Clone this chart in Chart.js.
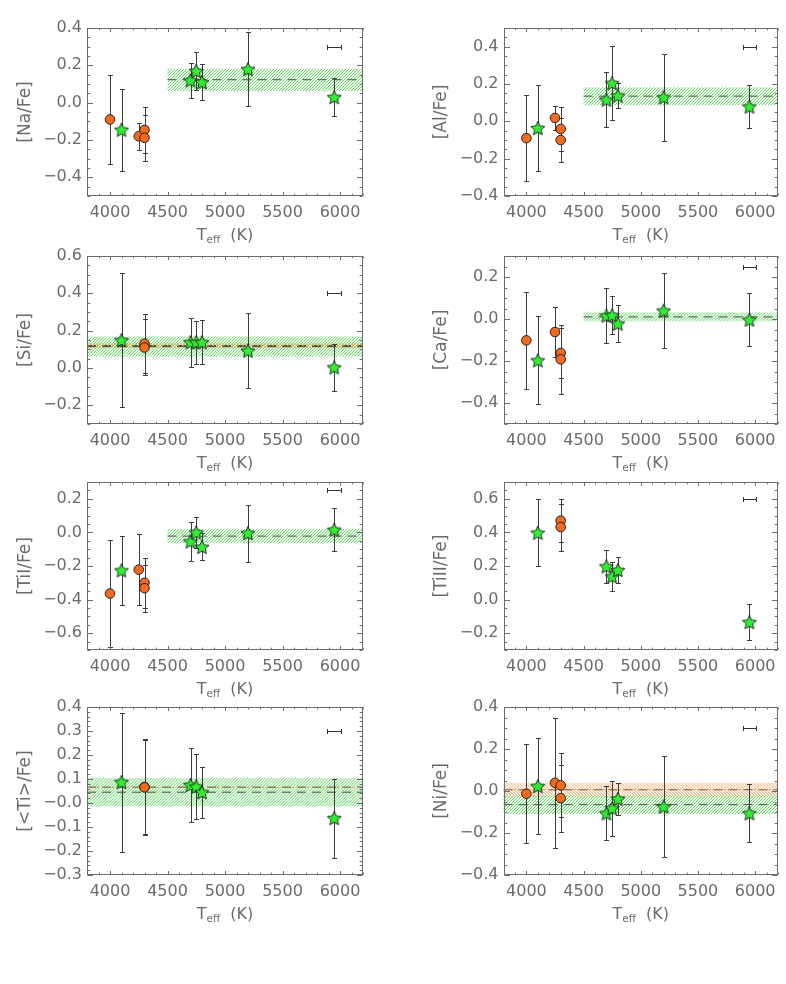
<!DOCTYPE html>
<html>
<head>
<meta charset="utf-8">
<script src="https://cdn.jsdelivr.net/npm/chart.js@4/dist/chart.umd.min.js"></script>
<style>
  body { margin: 0; background: #fff; width: 786px; height: 984px; position: relative; overflow: hidden; }
  canvas { position: absolute; }
</style>
</head>
<body>
<script>
// Teff of the two groups of stars (K)
const circleTeff = [4000, 4250, 4300, 4300];
const starTeff = [4100, 4700, 4750, 4800, 5200, 5950];

// abundances and errors, null = not measured
const naCircle = [-0.09, -0.18, -0.146, -0.188];
const naCircleErr = [0.24, 0.072, 0.123, 0.122];
const naStar = [-0.145, 0.12, 0.17, 0.11, 0.18, 0.03];
const naStarErr = [0.22, 0.095, 0.1, 0.095, 0.2, 0.1];

const alCircle = [-0.09, 0.018, -0.041, -0.1];
const alCircleErr = [0.23, 0.062, 0.12, 0.12];
const alStar = [-0.036, 0.116, 0.205, 0.138, 0.129, 0.079];
const alStarErr = [0.23, 0.147, 0.2, 0.067, 0.232, 0.115];

const siCircle = [null, null, 0.13, 0.11];
const siCircleErr = [null, null, 0.157, 0.15];
const siStar = [0.149, 0.138, 0.138, 0.138, 0.093, 0.004];
const siStarErr = [0.36, 0.13, 0.115, 0.117, 0.2, 0.127];

const caCircle = [-0.102, -0.062, -0.162, -0.192];
const caCircleErr = [0.232, 0.118, 0.12, 0.165];
const caStar = [-0.197, 0.016, 0.018, -0.022, 0.04, -0.003];
const caStarErr = [0.21, 0.13, 0.09, 0.087, 0.178, 0.127];

const ti1Circle = [-0.364, -0.222, -0.3, -0.332];
const ti1CircleErr = [0.32, 0.21, 0.15, 0.14];
const ti1Star = [-0.226, -0.054, 0.0, -0.086, -0.004, 0.016];
const ti1StarErr = [0.204, 0.114, 0.09, 0.08, 0.17, 0.128];

const ti2Circle = [null, null, 0.47, 0.432];
const ti2CircleErr = [null, null, 0.13, 0.14];
const ti2Star = [0.398, 0.198, 0.138, 0.176, null, -0.134];
const ti2StarErr = [0.2, 0.1, 0.088, 0.077, null, 0.106];

const tiCircle = [null, null, 0.067, 0.065];
const tiCircleErr = [null, null, 0.195, 0.2];
const tiStar = [0.087, 0.075, 0.068, 0.045, null, -0.063];
const tiStarErr = [0.29, 0.153, 0.136, 0.107, null, 0.165];

const niCircle = [-0.013, 0.039, 0.027, -0.034];
const niCircleErr = [0.236, 0.31, 0.153, 0.16];
const niStar = [0.023, -0.106, -0.082, -0.037, -0.074, -0.106];
const niStarErr = [0.228, 0.128, 0.132, 0.077, 0.242, 0.139];

// panels, left to right, top to bottom
const yTitles = ['[Na/Fe]', '[Al/Fe]', '[Si/Fe]', '[Ca/Fe]', '[TiI/Fe]', '[TiII/Fe]', '[<Ti>/Fe]', '[Ni/Fe]'];
const yMins = [-0.5, -0.4, -0.3, -0.5, -0.7, -0.3, -0.3, -0.4];
const yMaxs = [0.4, 0.5, 0.6, 0.3, 0.3, 0.7, 0.4, 0.4];
const yTickSets = [
  [-0.4, -0.2, 0, 0.2, 0.4],
  [-0.4, -0.2, 0, 0.2, 0.4],
  [-0.2, 0, 0.2, 0.4, 0.6],
  [-0.4, -0.2, 0, 0.2],
  [-0.6, -0.4, -0.2, 0, 0.2],
  [-0.2, 0, 0.2, 0.4, 0.6],
  [-0.3, -0.2, -0.1, 0, 0.1, 0.2, 0.3, 0.4],
  [-0.4, -0.2, 0, 0.2, 0.4]
];
const yMinorSteps = [0.05, 0.05, 0.05, 0.05, 0.05, 0.05, 0.02, 0.05];
const xTicks = [4000, 4500, 5000, 5500, 6000];

// mean +- sigma bands of each group
const greenMean = [0.123, 0.135, 0.115, 0.01, -0.022, null, 0.045, -0.065];
const greenSig = [0.06, 0.048, 0.055, 0.022, 0.042, null, 0.06, 0.045];
const greenFrom = [4500, 4500, 3800, 4500, 4500, null, 3800, 3800];
const orangeMean = [null, null, 0.12, null, null, null, 0.066, 0.006];
const orangeSig = [null, null, 0.015, null, null, null, 0, 0.034];

// typical Teff error, drawn top right
const teffErrY = [0.3, 0.4, 0.4, 0.25, 0.25, 0.6, 0.3, 0.3];
const teffErrX = 5950;
const teffErr = 60;

const circleVals = [naCircle, alCircle, siCircle, caCircle, ti1Circle, ti2Circle, tiCircle, niCircle];
const circleErrs = [naCircleErr, alCircleErr, siCircleErr, caCircleErr, ti1CircleErr, ti2CircleErr, tiCircleErr, niCircleErr];
const starVals = [naStar, alStar, siStar, caStar, ti1Star, ti2Star, tiStar, niStar];
const starErrs = [naStarErr, alStarErr, siStarErr, caStarErr, ti1StarErr, ti2StarErr, tiStarErr, niStarErr];

const FONT = "'DejaVu Sans', sans-serif";
const TXT = '#6b6b6b';
const ORANGE = '#f26a1c';
const GREEN = '#2ef02e';
const canvasTops = [0, 228, 454, 679];

function makeStar(r) {
  const c = document.createElement('canvas');
  const s = Math.ceil(r * 2 + 3);
  c.width = c.height = s;
  const g = c.getContext('2d');
  g.translate(s / 2, s / 2 + 0.7);
  g.beginPath();
  for (let k = 0; k < 10; k++) {
    const rr = k % 2 ? r * 0.47 : r;
    const a = -Math.PI / 2 + k * Math.PI / 5;
    g.lineTo(rr * Math.cos(a), rr * Math.sin(a));
  }
  g.closePath();
  g.fillStyle = GREEN;
  g.fill();
  g.strokeStyle = '#1a1a1a';
  g.lineWidth = 0.9;
  g.stroke();
  return c;
}
const starImg = makeStar(7.4);

function pts(xs, ys) { return xs.map((x, k) => ({x: x, y: ys[k]})).filter(p => p.y !== null); }
function errs(ys, es) { return es.filter((e, k) => ys[k] !== null); }

function fmt(v, i) {
  if (Math.abs(v) < 1e-9) return i === 6 ? '\u22120.0' : '0.0';
  return (v < 0 ? '\u2212' : '') + Math.abs(v).toFixed(1);
}

// diagonal hatching inside a value-space rectangle
function hatchRect(chart, x1v, x2v, y1v, y2v, color, dir) {
  const {ctx, chartArea: a, scales: {x, y}} = chart;
  const x1 = Math.max(x.getPixelForValue(x1v), a.left), x2 = Math.min(x.getPixelForValue(x2v), a.right);
  const top = y.getPixelForValue(y2v), bot = y.getPixelForValue(y1v);
  const h = bot - top;
  ctx.save();
  ctx.beginPath();
  ctx.rect(x1, top, x2 - x1, h);
  ctx.clip();
  ctx.strokeStyle = color;
  ctx.lineWidth = 1;
  ctx.beginPath();
  for (let s = Math.floor((x1 - h - 6) / 3) * 3; s < x2 + 6; s += 3) {
    if (dir > 0) { ctx.moveTo(s, bot); ctx.lineTo(s + h, top); }
    else { ctx.moveTo(s, top); ctx.lineTo(s + h, bot); }
  }
  ctx.stroke();
  ctx.restore();
}

const bands = {
  id: 'bands',
  beforeDatasetsDraw(chart, args, opts) {
    const i = opts.panel;
    if (orangeMean[i] !== null && orangeSig[i] > 0)
      hatchRect(chart, 3800, 6200, orangeMean[i] - orangeSig[i], orangeMean[i] + orangeSig[i], '#f6a462', -1);
    if (greenMean[i] !== null)
      hatchRect(chart, greenFrom[i], 6200, greenMean[i] - greenSig[i], greenMean[i] + greenSig[i], '#52d952', 1);
  }
};

const errorBars = {
  id: 'errorBars',
  beforeDatasetDraw(chart, args) {
    const ds = chart.data.datasets[args.index];
    if (!ds.errors) return;
    const {ctx, scales: {x, y}} = chart;
    ctx.save();
    ctx.strokeStyle = '#3c3c3c';
    ctx.lineWidth = 1;
    ds.data.forEach((p, k) => {
      const px = Math.round(x.getPixelForValue(p.x)) + 0.5;
      const top = Math.round(y.getPixelForValue(p.y + ds.errors[k])) + 0.5;
      const bot = Math.round(y.getPixelForValue(p.y - ds.errors[k])) + 0.5;
      ctx.beginPath();
      ctx.moveTo(px, top); ctx.lineTo(px, bot);
      ctx.moveTo(px - 2.5, top); ctx.lineTo(px + 2.5, top);
      ctx.moveTo(px - 2.5, bot); ctx.lineTo(px + 2.5, bot);
      ctx.stroke();
    });
    ctx.restore();
  }
};

const frame = {
  id: 'frame',
  afterDatasetsDraw(chart, args, opts) {
    const {ctx, chartArea: a, scales: {x, y}} = chart;
    const i = opts.panel;
    ctx.save();
    ctx.strokeStyle = TXT;
    ctx.lineWidth = 1;
    const L = Math.round(a.left) + 0.5, R = Math.round(a.right) - 0.5;
    const T = Math.round(a.top) + 0.5, B = Math.round(a.bottom) - 0.5;
    ctx.strokeRect(L, T, R - L, B - T);
    ctx.beginPath();
    for (let v = 3800; v <= 6200; v += 100) {
      const len = xTicks.includes(v) ? 3.5 : 1.8;
      const px = Math.round(x.getPixelForValue(v)) + 0.5;
      ctx.moveTo(px, B); ctx.lineTo(px, B - len);
      ctx.moveTo(px, T); ctx.lineTo(px, T + len);
    }
    const n = Math.round((yMaxs[i] - yMins[i]) / yMinorSteps[i]);
    for (let k = 0; k <= n; k++) {
      const v = yMins[i] + k * yMinorSteps[i];
      const len = yTickSets[i].some(t => Math.abs(t - v) < 1e-6) ? 5.5 : 2.8;
      const py = Math.round(y.getPixelForValue(v)) + 0.5;
      ctx.moveTo(L, py); ctx.lineTo(L + len, py);
      ctx.moveTo(R, py); ctx.lineTo(R - len, py);
    }
    ctx.stroke();

    // typical Teff uncertainty
    ctx.strokeStyle = '#333';
    const ey = Math.round(y.getPixelForValue(teffErrY[i])) + 0.5;
    const x1 = Math.round(x.getPixelForValue(teffErrX - teffErr)) + 0.5;
    const x2 = Math.round(x.getPixelForValue(teffErrX + teffErr)) + 0.5;
    ctx.beginPath();
    ctx.moveTo(x1, ey); ctx.lineTo(x2, ey);
    ctx.moveTo(x1, ey - 2.5); ctx.lineTo(x1, ey + 2.5);
    ctx.moveTo(x2, ey - 2.5); ctx.lineTo(x2, ey + 2.5);
    ctx.stroke();

    // x title with subscript
    ctx.fillStyle = TXT;
    ctx.textBaseline = 'alphabetic';
    const big = '16px ' + FONT, small = '10.5px ' + FONT;
    ctx.font = big;
    const wT = ctx.measureText('T').width, wK = ctx.measureText('  (K)').width;
    ctx.font = small;
    const wE = ctx.measureText('eff').width;
    let cx = (a.left + a.right) / 2 - (wT + wE + wK) / 2;
    const base = a.bottom + 43.5;
    ctx.font = big; ctx.fillText('T', cx, base); cx += wT;
    ctx.font = small; ctx.fillText('eff', cx, base + 3.5); cx += wE;
    ctx.font = big; ctx.fillText('  (K)', cx, base);
    ctx.restore();
  }
};

function meanLine(mean, from, color, dash, order) {
  return {type: 'line', data: [{x: from, y: mean}, {x: 6200, y: mean}], borderColor: color, borderWidth: 1, borderDash: dash, pointRadius: 0, fill: false, order: order};
}

for (let i = 0; i < 8; i++) {
  const col = i % 2, row = Math.floor(i / 2);
  const cv = document.createElement('canvas');
  cv.width = 393;
  cv.height = 250;
  cv.style.left = (col * 393) + 'px';
  cv.style.top = canvasTops[row] + 'px';
  document.body.appendChild(cv);

  const datasets = [];
  if (greenMean[i] !== null) datasets.push(meanLine(greenMean[i], greenFrom[i], '#4a4a4a', [9, 6], 5));
  if (orangeMean[i] !== null) {
    datasets.push(meanLine(orangeMean[i], 3800, '#4a4a4a', [9, 6], 5));
    datasets.push(meanLine(orangeMean[i], 3800, '#f08a30', [2, 3], 4));
  }
  datasets.push({
    type: 'scatter', data: pts(circleTeff, circleVals[i]), errors: errs(circleVals[i], circleErrs[i]),
    pointStyle: 'circle', pointRadius: 4.8, backgroundColor: ORANGE, borderColor: '#222', borderWidth: 1, order: 2
  });
  datasets.push({
    type: 'scatter', data: pts(starTeff, starVals[i]), errors: errs(starVals[i], starErrs[i]),
    pointStyle: starImg, pointRadius: 7, order: 1
  });

  new Chart(cv, {
    type: 'scatter',
    data: {datasets: datasets},
    options: {
      responsive: false,
      animation: false,
      devicePixelRatio: 1,
      events: [],
      layout: {padding: {left: col ? 38.5 : 15, right: col ? 7 : 30, top: 28, bottom: 0}},
      plugins: {legend: {display: false}, tooltip: {enabled: false}, frame: {panel: i}, bands: {panel: i}},
      scales: {
        x: {
          type: 'linear', min: 3800, max: 6200,
          afterBuildTicks: s => { s.ticks = xTicks.map(v => ({value: v})); },
          afterFit: s => { s.height = 54; s.paddingLeft = 0; s.paddingRight = 0; },
          ticks: {font: {family: FONT, size: 16}, color: TXT, padding: 7, maxRotation: 0, autoSkip: false, callback: v => String(v)},
          grid: {display: false, drawTicks: false},
          border: {display: false}
        },
        y: {
          type: 'linear', min: yMins[i], max: yMaxs[i],
          afterBuildTicks: s => { s.ticks = yTickSets[i].map(v => ({value: v})); },
          afterFit: s => { s.width = 72; },
          ticks: {font: {family: FONT, size: 16}, color: TXT, padding: 5, autoSkip: false, callback: v => fmt(v, i)},
          grid: {display: false, drawTicks: false},
          border: {display: false},
          title: {display: true, text: yTitles[i], font: {family: FONT, size: 17}, color: TXT, padding: {top: 0, bottom: 0}}
        }
      }
    },
    plugins: [bands, errorBars, frame]
  });
}
</script>
</body>
</html>
